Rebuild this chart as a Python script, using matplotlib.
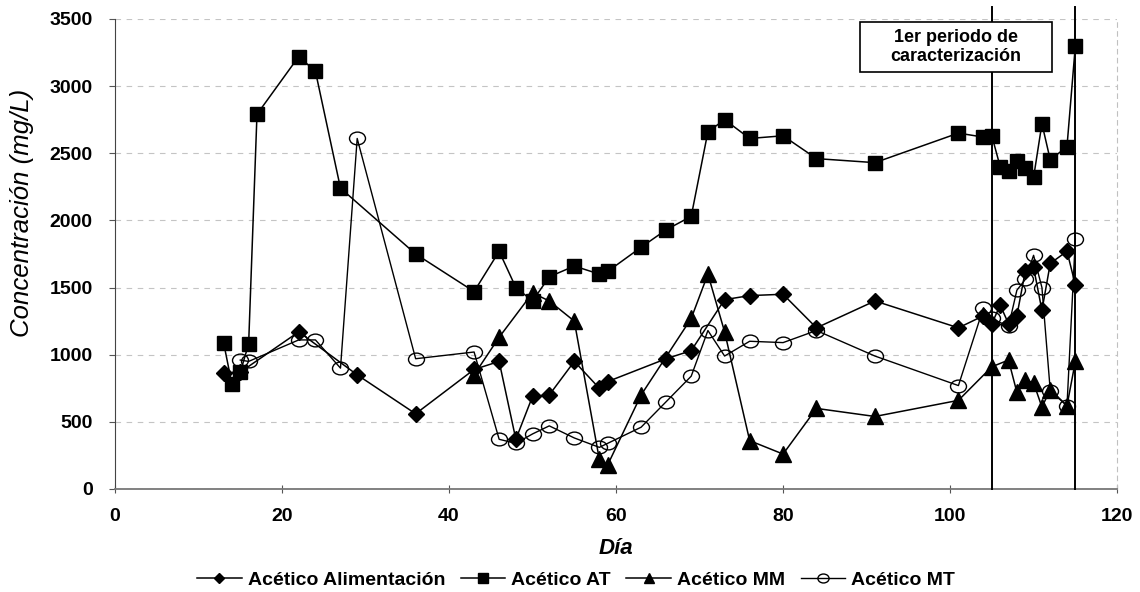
import numpy as np
import matplotlib
matplotlib.use('Agg')
import matplotlib.pyplot as plt
from matplotlib.path import Path
from matplotlib.transforms import Affine2D
from matplotlib.patches import Rectangle

plt.rcParams['font.family'] = ['Liberation Sans', 'DejaVu Sans']

# Acetic acid concentration (mg/L) by day for each sampling point
ali_days = [13, 15, 22, 29, 36, 43, 46, 48, 50, 52, 55, 58, 59, 66, 69, 73, 76,
            80, 84, 91, 101, 104, 105, 106, 107, 108, 109, 110, 111, 112, 114, 115]
ali = [860, 870, 1170, 850, 560, 890, 950, 370, 690, 700, 950, 750, 800, 970,
       1030, 1410, 1440, 1450, 1200, 1400, 1200, 1290, 1230, 1370, 1230, 1290,
       1620, 1650, 1330, 1680, 1770, 1520]

at_days = [13, 14, 15, 16, 17, 22, 24, 27, 36, 43, 46, 48, 50, 52, 55, 58, 59,
           63, 66, 69, 71, 73, 76, 80, 84, 91, 101, 104, 105, 106, 107, 108,
           109, 110, 111, 112, 114, 115]
at = [1090, 780, 870, 1080, 2790, 3220, 3110, 2240, 1750, 1470, 1770, 1500,
      1400, 1580, 1660, 1600, 1620, 1800, 1930, 2030, 2660, 2750, 2610, 2630,
      2460, 2430, 2650, 2620, 2630, 2400, 2370, 2440, 2390, 2320, 2720, 2450,
      2550, 3300]

mm_days = [43, 46, 50, 52, 55, 58, 59, 63, 69, 71, 73, 76, 80, 84, 91, 101,
           105, 107, 108, 109, 110, 111, 112, 114, 115]
mm = [850, 1130, 1460, 1400, 1250, 220, 180, 700, 1270, 1600, 1170, 360, 260,
      600, 540, 660, 910, 960, 720, 810, 790, 610, 740, 620, 950]

mt_days = [15, 16, 22, 24, 27, 29, 36, 43, 46, 48, 50, 52, 55, 58, 59, 63, 66,
           69, 71, 73, 76, 80, 84, 91, 101, 104, 105, 107, 108, 109, 110, 111,
           112, 114, 115]
mt = [960, 950, 1110, 1110, 900, 2610, 970, 1020, 370, 340, 410, 470, 380,
      310, 340, 460, 650, 840, 1180, 990, 1100, 1090, 1180, 990, 770, 1350,
      1270, 1210, 1480, 1560, 1740, 1500, 730, 620, 1860]

labels = ['Acético Alimentación', 'Acético AT', 'Acético MM', 'Acético MT']
period_days = [105, 115]

# slightly flattened open circle
ellipse = Path.unit_circle().transformed(Affine2D().scale(1.25, 1.0))

fig = plt.figure(figsize=(11.4, 5.92), dpi=100)
ax = fig.add_axes([0.1009, 0.174, 0.879, 0.794])

ax.plot(ali_days, ali, color='black', lw=1.1, marker='D', ms=7.8,
        mfc='black', mec='black', label=labels[0], zorder=4)
ax.plot(at_days, at, color='black', lw=1.1, marker='s', ms=10.5,
        mfc='black', mec='black', label=labels[1], zorder=3)
ax.plot(mm_days, mm, color='black', lw=1.1, marker='^', ms=11,
        mfc='black', mec='black', label=labels[2], zorder=3)
ax.plot(mt_days, mt, color='black', lw=1.0, marker=ellipse, ms=11.5,
        mfc='none', mec='black', mew=1.0, label=labels[3], zorder=5)

for d in period_days:
    ax.axvline(d, ymin=0, ymax=1.025, color='black', lw=1.4, clip_on=False,
               zorder=6)

# label box for the characterization period
ax.add_patch(Rectangle((89.2, 3105), 23.0, 372, facecolor='white',
                       edgecolor='black', lw=1.2, zorder=7, clip_on=False))
ax.text(100.7, 3291, '1er periodo de\ncaracterización', ha='center',
        va='center', fontsize=13, fontweight='bold', linespacing=1.1,
        zorder=8)

ax.set_xlim(0, 120)
ax.set_ylim(0, 3500)
ax.set_xticks(np.arange(0, 121, 20))
ax.set_yticks(np.arange(0, 3501, 500))
ax.yaxis.grid(True, color='#c4c4c4', lw=0.8, linestyle=(0, (5, 5)))
ax.set_axisbelow(True)

ax.spines['top'].set_visible(False)
ax.spines['right'].set_color('#c0c0c0')
ax.spines['right'].set_linestyle((0, (4, 4)))
ax.spines['left'].set_color('#444444')
ax.spines['bottom'].set_color('#777777')
ax.spines['bottom'].set_linewidth(1.3)

ax.tick_params(axis='both', labelsize=14, width=0.8, color='#555555')
ax.tick_params(axis='y', direction='out', length=4, pad=12)
ax.tick_params(axis='x', direction='inout', length=6, pad=11)
for t in ax.get_xticklabels() + ax.get_yticklabels():
    t.set_fontweight('bold')

fig.text(616 / 1140, 1 - 549 / 592, 'Día', ha='center', va='center',
         fontsize=16, fontweight='bold', fontstyle='italic')
fig.text(22 / 1140, 1 - 213 / 592, 'Concentración (mg/L)', ha='center',
         va='center', rotation=90, fontsize=18.5, fontstyle='italic')

fig.legend(*ax.get_legend_handles_labels(), loc='center',
           bbox_to_anchor=(576 / 1140, 1 - 580 / 592), ncol=4, frameon=False,
           prop={'size': 14, 'weight': 'bold'}, handlelength=2.3,
           handletextpad=0.3, columnspacing=0.8, markerscale=0.7,
           borderpad=0)

fig.savefig('out.png', dpi=100)
